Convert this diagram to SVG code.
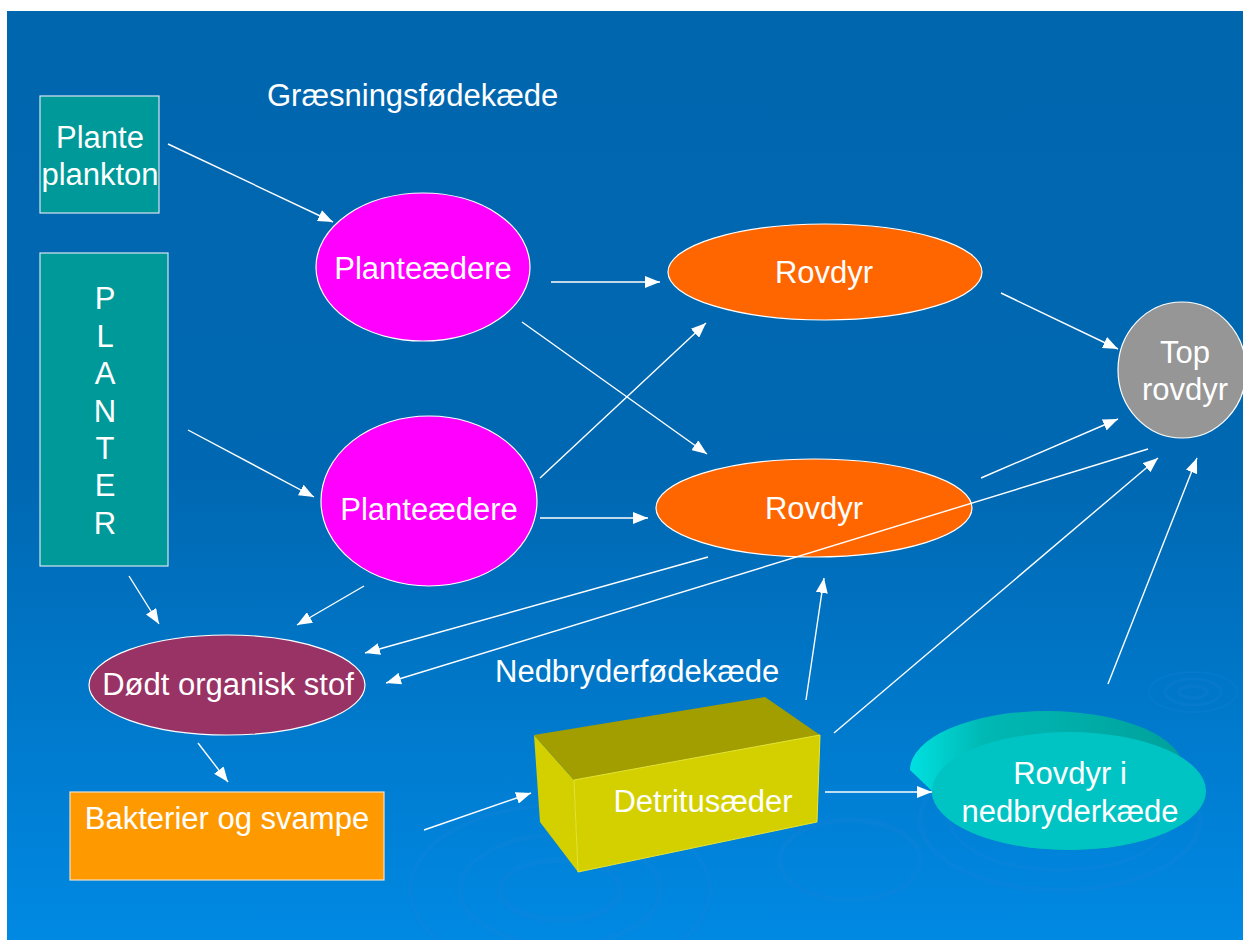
<svg xmlns="http://www.w3.org/2000/svg" width="1243" height="940" viewBox="0 0 1243 940">
<defs>
<linearGradient id="bg" x1="0" y1="0" x2="0" y2="1">
<stop offset="0" stop-color="#0066AE"/>
<stop offset="0.5" stop-color="#0068B2"/>
<stop offset="1" stop-color="#0089E3"/>
</linearGradient>
<linearGradient id="cylSide" x1="0" y1="0" x2="1" y2="0">
<stop offset="0" stop-color="#00E0E0"/>
<stop offset="0.25" stop-color="#00B8B4"/>
<stop offset="1" stop-color="#009E98"/>
</linearGradient>
<marker id="ah" markerUnits="userSpaceOnUse" markerWidth="16" markerHeight="12" refX="15" refY="6" orient="auto">
<path d="M0,0 L15,6 L0,12 Z" fill="#FFFFFF"/>
</marker>
<style>
.lbl{font-family:"Liberation Sans",Arial,sans-serif;font-size:31px;fill:#FFFFFF;}
.c{text-anchor:middle;}
.conn line{stroke:#FFFFFF;stroke-width:1.4;marker-end:url(#ah);}
.ol{stroke:#FFFFFF;stroke-width:1.2;}
.rip{fill:none;stroke:#1A86DA;stroke-opacity:0.22;}
</style>
</defs>
<rect x="0" y="0" width="1243" height="940" fill="#FFFFFF"/>
<rect x="7" y="11" width="1236" height="929" fill="url(#bg)"/>
<g id="ripples">
<ellipse class="rip" cx="560" cy="890" rx="60" ry="30" stroke-width="6"/>
<ellipse class="rip" cx="560" cy="890" rx="100" ry="55" stroke-width="5"/>
<ellipse class="rip" cx="560" cy="890" rx="150" ry="85" stroke-width="4"/>
<ellipse class="rip" cx="850" cy="860" rx="70" ry="40" stroke-width="5"/>
<ellipse class="rip" cx="1060" cy="820" rx="140" ry="70" stroke-width="5"/>
<ellipse class="rip" cx="1060" cy="820" rx="110" ry="50" stroke-width="4"/>
<ellipse class="rip" cx="1193" cy="692" rx="14" ry="6" stroke-width="4"/>
<ellipse class="rip" cx="1193" cy="692" rx="28" ry="13" stroke-width="3"/>
<ellipse class="rip" cx="1193" cy="692" rx="44" ry="20" stroke-width="2"/>
</g>
<g id="label-graesning"><text class="lbl" x="267" y="106">Græsningsfødekæde</text></g>
<g id="label-nedbryder"><text class="lbl" x="495" y="682">Nedbryderfødekæde</text></g>
<g id="planteplankton">
<rect x="40" y="96" width="119" height="117" fill="#009999" stroke="#D8E4F0" stroke-width="1.2"/>
<text class="lbl c" x="100" y="148">Plante</text>
<text class="lbl c" x="100" y="185">plankton</text>
</g>
<g id="planter">
<rect x="40" y="253" width="128" height="313" fill="#009999" stroke="#D8E4F0" stroke-width="1.2"/>
<text class="lbl c" x="105" y="309">P</text>
<text class="lbl c" x="105" y="347">L</text>
<text class="lbl c" x="105" y="384">A</text>
<text class="lbl c" x="105" y="422">N</text>
<text class="lbl c" x="105" y="459">T</text>
<text class="lbl c" x="105" y="496">E</text>
<text class="lbl c" x="105" y="534">R</text>
</g>
<g id="planteaedere1">
<ellipse class="ol" cx="423" cy="267" rx="107" ry="74" fill="#FF00FF"/>
<text class="lbl c" x="423" y="279">Planteædere</text>
</g>
<g id="planteaedere2">
<ellipse class="ol" cx="429" cy="501" rx="108" ry="85" fill="#FF00FF"/>
<text class="lbl c" x="429" y="520">Planteædere</text>
</g>
<g id="rovdyr1">
<ellipse class="ol" cx="825" cy="272" rx="157" ry="48" fill="#FF6600"/>
<text class="lbl c" x="824" y="283">Rovdyr</text>
</g>
<g id="rovdyr2">
<ellipse class="ol" cx="814" cy="508" rx="158" ry="49" fill="#FF6600"/>
<text class="lbl c" x="814" y="519">Rovdyr</text>
</g>
<g id="toprovdyr">
<ellipse class="ol" cx="1182" cy="370" rx="64" ry="68" fill="#969696"/>
<text class="lbl c" x="1185" y="363">Top</text>
<text class="lbl c" x="1185" y="400">rovdyr</text>
</g>
<g id="doedt">
<ellipse class="ol" cx="227" cy="685" rx="138" ry="50" fill="#993366"/>
<text class="lbl c" x="228" y="695">Dødt organisk stof</text>
</g>
<g id="bakterier">
<rect x="70" y="792" width="314" height="88" fill="#FF9900" stroke="#F0E0C8" stroke-width="1.2"/>
<text class="lbl c" x="227" y="829">Bakterier og svampe</text>
</g>
<g id="detritus">
<polygon points="534,735 574,780 578,872 540,822" fill="#D4D000"/>
<polygon points="534,735 765,697 820,735 574,780" fill="#A29E00"/>
<polygon points="574,780 820,735 817,822 578,872" fill="#D4D000" stroke="#E8E430" stroke-width="1"/>
<text class="lbl c" x="703" y="812">Detritusæder</text>
</g>
<g id="rovdyr-nedbryder">
<path d="M910,770 A137,59 0 0 1 1184,770 L1206,791 A137,59 0 0 1 932,791 Z" fill="url(#cylSide)"/>
<ellipse cx="1069" cy="791" rx="137" ry="59" fill="#00C4C4"/>
<text class="lbl c" x="1070" y="784">Rovdyr i</text>
<text class="lbl c" x="1070" y="822">nedbryderkæde</text>
</g>
<g id="connectors" class="conn">
<line x1="168" y1="144" x2="333" y2="222"/>
<line x1="551" y1="282" x2="660" y2="282"/>
<line x1="522" y1="322" x2="707" y2="454"/>
<line x1="540" y1="478" x2="706" y2="323"/>
<line x1="188" y1="430" x2="314" y2="497"/>
<line x1="540" y1="518" x2="648" y2="518"/>
<line x1="1001" y1="293" x2="1118" y2="349"/>
<line x1="981" y1="478" x2="1118" y2="419"/>
<line x1="1148" y1="449" x2="386" y2="683"/>
<line x1="708" y1="557" x2="365" y2="653"/>
<line x1="129" y1="576" x2="159" y2="624"/>
<line x1="364" y1="586" x2="297" y2="625"/>
<line x1="198" y1="743" x2="228" y2="782"/>
<line x1="424" y1="830" x2="531" y2="793"/>
<line x1="806" y1="700" x2="824" y2="578"/>
<line x1="834" y1="733" x2="1158" y2="458"/>
<line x1="1108" y1="684" x2="1197" y2="458"/>
<line x1="825" y1="792" x2="932" y2="792"/>
</g>
</svg>
